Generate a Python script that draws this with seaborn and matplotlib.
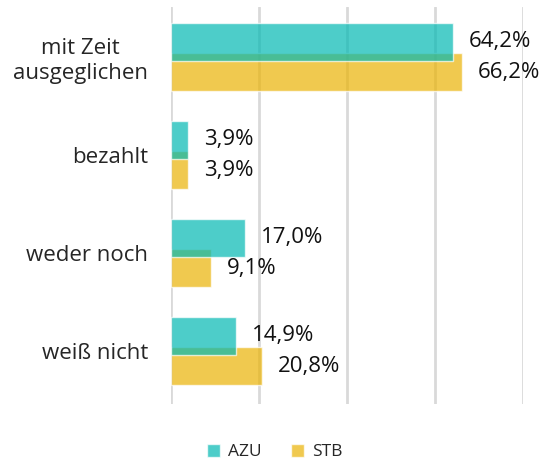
import numpy as np
import pandas as pd
import matplotlib
matplotlib.use("Agg")
import matplotlib.pyplot as plt
import seaborn as sns

categories = ["mit Zeit\nausgeglichen", "bezahlt", "weder noch", "weiß nicht"]
azu = [64.2, 3.9, 17.0, 14.9]
stb = [66.2, 3.9, 9.1, 20.8]
series = ["AZU", "STB"]

teal = "#02b8b3"
yellow = "#eab305"

sns.set_style("white")
plt.rcParams["font.family"] = ["Open Sans", "DejaVu Sans"]

pos = np.arange(len(categories))
off = 0.155
df_azu = pd.DataFrame({"pos": pos - off, "val": azu})
df_stb = pd.DataFrame({"pos": pos + off, "val": stb})

fig = plt.figure(figsize=(5.45, 4.68), dpi=100)
ax = fig.add_axes([170.5 / 545, 1 - 404 / 468, 352 / 545, 397 / 468])

for gx in [0, 20, 40, 60, 80]:
    ax.axvline(gx, color="#d9d9d9", lw=2, zorder=0)

# STB first so the teal bar sits on top of the overlap
sns.barplot(data=df_stb, x="val", y="pos", orient="h", native_scale=True,
            width=0.39, color=yellow, alpha=0.7, saturation=1, ax=ax,
            label="STB", zorder=2)
sns.barplot(data=df_azu, x="val", y="pos", orient="h", native_scale=True,
            width=0.39, color=teal, alpha=0.7, saturation=1, ax=ax,
            label="AZU", zorder=3)

for p, v in zip(pos - off, azu):
    ax.annotate(f"{v:.1f}%".replace(".", ","), (v, p), xytext=(11.5, 0),
                textcoords="offset points", va="center", ha="left",
                fontsize=16, color="#111111")
for p, v in zip(pos + off, stb):
    ax.annotate(f"{v:.1f}%".replace(".", ","), (v, p), xytext=(11.5, 0),
                textcoords="offset points", va="center", ha="left",
                fontsize=16, color="#111111")

ax.set_xlim(0, 80)
ax.set_ylim(3.54, -0.51)
ax.set_yticks(pos)
ax.set_yticklabels(categories, fontsize=16, multialignment="center")
ax.tick_params(axis="y", length=0, pad=16)
ax.set_xticks([])
ax.set_xlabel("")
ax.set_ylabel("")
for s in ax.spines.values():
    s.set_visible(False)

handles, labels = ax.get_legend_handles_labels()
order = [labels.index("AZU"), labels.index("STB")]
ax.legend([handles[i] for i in order], [labels[i] for i in order],
          loc="center", bbox_to_anchor=(275 / 545, 1 - 452 / 468),
          bbox_transform=fig.transFigure, ncol=2, frameon=False,
          fontsize=12.5, handlelength=0.75, handleheight=0.75,
          handletextpad=0.45, columnspacing=1.7)

fig.savefig("out.png", dpi=100)
